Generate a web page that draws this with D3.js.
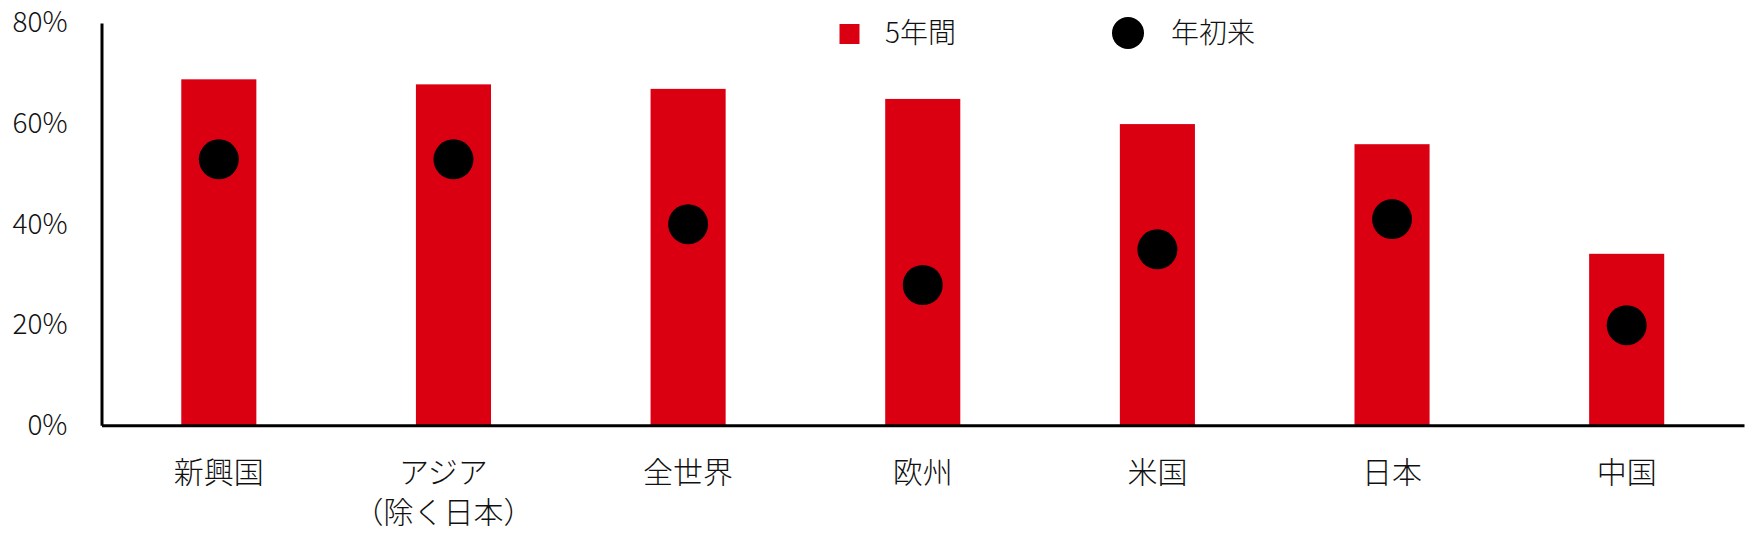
<!DOCTYPE html>
<html>
<head>
<meta charset="utf-8">
<script src="https://cdn.jsdelivr.net/npm/d3@7"></script>
<style>
  body { margin: 0; background: #fff; }
  text { font-family: "Noto Sans CJK JP", "Noto Sans", sans-serif; font-weight: 300; fill: #111; }
</style>
</head>
<body>
<div id="chart"></div>
<script>
// Data
const categories = ["新興国", "アジア\n（除く日本）", "全世界", "欧州", "米国", "日本", "中国"];
const fiveYear = [68.8, 67.8, 66.9, 64.9, 59.9, 55.9, 34.1];
const ytd = [52.9, 52.9, 40.0, 27.9, 35.0, 41.0, 19.9];
const yTicks = [0, 20, 40, 60, 80];
const seriesNames = ["5年間", "年初来"];

const barColor = "#DA0012";

// Dimensions
let dimensions = {
    width: 1751,
    height: 535,
    margin: {top: 23, right: 7, bottom: 110, left: 101.5},
}
dimensions.boundedWidth = dimensions.width - dimensions.margin.left - dimensions.margin.right
dimensions.boundedHeight = 425.3 - dimensions.margin.top

// Scales
const xScale = d3.scaleBand()
    .domain(categories)
    .range([0, dimensions.boundedWidth])
    .paddingInner(0.68)
    .paddingOuter(0.34)

const yScale = d3.scaleLinear()
    .domain([0, 80])
    .range([dimensions.boundedHeight, 0])

const svg = d3.select("#chart")
    .append("svg")
        .attr("width", dimensions.width)
        .attr("height", dimensions.height)

const bounds = svg.append("g")
    .attr("transform", `translate(${dimensions.margin.left}, ${dimensions.margin.top})`)

// Bars
bounds.append("g")
    .selectAll("rect")
    .data(categories)
    .join("rect")
        .attr("x", d => xScale(d))
        .attr("y", (d, i) => yScale(fiveYear[i]))
        .attr("width", xScale.bandwidth())
        .attr("height", (d, i) => yScale(0) - yScale(fiveYear[i]))
        .attr("fill", barColor)

// Dots
bounds.append("g")
    .selectAll("circle")
    .data(categories)
    .join("circle")
        .attr("cx", d => xScale(d) + xScale.bandwidth() / 2)
        .attr("cy", (d, i) => yScale(ytd[i]))
        .attr("r", 20)
        .attr("fill", "#000")

// Y axis
const yAxis = bounds.append("g")
    .call(d3.axisLeft(yScale)
        .tickValues(yTicks)
        .tickSize(0)
        .tickSizeOuter(0)
        .tickPadding(34)
        .tickFormat(d => d + "%"))
yAxis.select(".domain").attr("stroke", "#000").attr("stroke-width", 3)
yAxis.selectAll("text")
    .attr("font-size", 28)
    .attr("font-family", "\"Noto Sans\", sans-serif")
    .attr("fill", "#111")

// X axis
const xAxis = bounds.append("g")
    .attr("transform", `translate(0, ${dimensions.boundedHeight})`)
    .call(d3.axisBottom(xScale).tickSize(0).tickSizeOuter(0).tickFormat(""))
xAxis.select(".domain").attr("stroke", "#000").attr("stroke-width", 3)
xAxis.selectAll(".tick text").remove()

xAxis.selectAll(".tick")
    .append("text")
        .attr("text-anchor", "middle")
        .attr("font-size", 30)
        .attr("fill", "#111")
        .attr("y", 58)
        .each(function(d) {
            const lines = d.split("\n")
            d3.select(this).selectAll("tspan")
                .data(lines)
                .join("tspan")
                    .attr("x", 0)
                    .attr("dx", lines.length > 1 ? -10 : 0)
                    .attr("dy", (l, i) => i === 0 ? 0 : 40)
                    .text(l => l)
        })

// Legend
const legend = svg.append("g")

legend.append("rect")
    .attr("x", 839.5)
    .attr("y", 24)
    .attr("width", 20)
    .attr("height", 20)
    .attr("fill", barColor)

legend.append("text")
    .attr("x", 885)
    .attr("y", 33)
    .attr("dy", "0.36em")
    .attr("font-size", 28)
    .text(seriesNames[0])

legend.append("circle")
    .attr("cx", 1128)
    .attr("cy", 33)
    .attr("r", 16)
    .attr("fill", "#000")

legend.append("text")
    .attr("x", 1171)
    .attr("y", 33)
    .attr("dy", "0.36em")
    .attr("font-size", 28)
    .text(seriesNames[1])
</script>
</body>
</html>
